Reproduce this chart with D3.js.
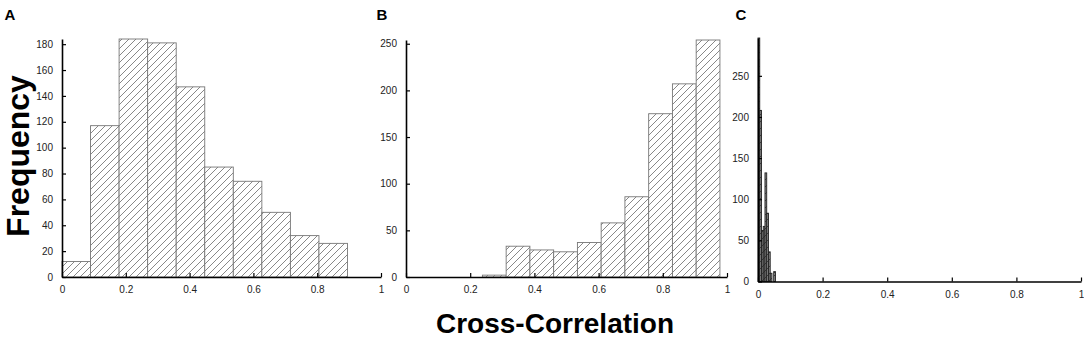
<!DOCTYPE html>
<html>
<head>
<meta charset="utf-8">
<script src="https://cdn.jsdelivr.net/npm/d3@7"></script>
<style>
  body { margin: 0; background: #fff; }
  text { font-family: "Liberation Sans", Arial, sans-serif; }
  .tick text { font-size: 10px; fill: #222; }
</style>
</head>
<body>
<svg width="1084" height="338"></svg>
<script>
// histogram counts
const countsA = [12, 117, 184, 181, 147, 85, 74, 50, 32, 26];
const binStartA = 0, binWidthA = 0.0895;

const countsB = [2, 33, 29, 27, 37, 58, 86, 175, 207, 254];
const binStartB = 0.238, binWidthB = 0.074;

const countsC = [296, 208, 62, 67, 132, 83, 36, 10, 0, 12];
const binStartC = 0, binWidthC = 0.0054;

const xTicks = [0, 0.2, 0.4, 0.6, 0.8, 1];
const yTicksA = [0, 20, 40, 60, 80, 100, 120, 140, 160, 180];
const yTicksB = [0, 50, 100, 150, 200, 250];
const yTicksC = [0, 50, 100, 150, 200, 250];

const svg = d3.select('svg');

const defs = svg.append('defs');
const hatch = (id, color, bg) => {
    const p = defs.append('pattern')
        .attr('id', id)
        .attr('patternUnits', 'userSpaceOnUse')
        .attr('width', 7)
        .attr('height', 7);
    p.append('rect').attr('width', 7).attr('height', 7).attr('fill', bg);
    p.append('path')
        .attr('d', 'M-1,8 L8,-1 M-2,1 L1,-2 M6,9 L9,6')
        .attr('stroke', color)
        .attr('stroke-width', 0.7);
};
hatch('hatch', '#555', '#fff');
hatch('hatchDark', '#222', '#888');

const panel = (opts) => {
    const { counts, start, width, yTicks, left, right, bottom, top, letter, fill, edge } = opts;
    const bins = counts.map((c, i) => ({ x0: start + i * width, x1: start + (i + 1) * width, count: c }));

    const xScale = d3.scaleLinear().domain([0, 1]).range([left, right]);
    const yScale = d3.scaleLinear().domain([0, d3.max(counts)]).range([bottom, top]);

    const g = svg.append('g');

    g.selectAll('rect').data(bins.filter(d => d.count > 0)).enter().append('rect')
        .attr('x', d => xScale(d.x0))
        .attr('width', d => xScale(d.x1) - xScale(d.x0))
        .attr('y', d => yScale(d.count))
        .attr('height', d => yScale(0) - yScale(d.count))
        .attr('fill', fill)
        .attr('stroke', edge)
        .attr('stroke-width', 0.9);

    const xAxis = d3.axisBottom(xScale)
        .tickValues(xTicks)
        .tickFormat(d3.format('~g'))
        .tickSizeInner(-4)
        .tickSizeOuter(0)
        .tickPadding(9);
    const xAxisG = g.append('g')
        .attr('transform', `translate(0, ${bottom})`)
        .call(xAxis);
    xAxisG.select('.domain').attr('stroke', '#000').attr('stroke-width', 1.6);
    xAxisG.selectAll('.tick line').attr('stroke', '#000').attr('stroke-width', 1.2);

    const yAxis = d3.axisLeft(yScale)
        .tickValues(yTicks)
        .tickSizeInner(-4)
        .tickSizeOuter(0)
        .tickPadding(9);
    const yAxisG = g.append('g')
        .attr('transform', `translate(${left}, 0)`)
        .call(yAxis);
    yAxisG.select('.domain').attr('stroke', '#000').attr('stroke-width', 1.6);
    yAxisG.selectAll('.tick line').attr('stroke', '#000').attr('stroke-width', 1.2);

    svg.append('text')
        .attr('x', letter[0])
        .attr('y', letter[1])
        .attr('text-anchor', 'middle')
        .style('font-size', '15px')
        .style('font-weight', 'bold')
        .text(letter[2]);
};

panel({ counts: countsA, start: binStartA, width: binWidthA, yTicks: yTicksA,
    left: 62, right: 381, bottom: 277, top: 39, letter: [10, 20, 'A'],
    fill: 'url(#hatch)', edge: '#777' });
panel({ counts: countsB, start: binStartB, width: binWidthB, yTicks: yTicksB,
    left: 406, right: 727, bottom: 277, top: 40, letter: [382, 20, 'B'],
    fill: 'url(#hatch)', edge: '#777' });
panel({ counts: countsC, start: binStartC, width: binWidthC, yTicks: yTicksC,
    left: 758, right: 1081, bottom: 281.5, top: 38, letter: [741, 20, 'C'],
    fill: 'url(#hatchDark)', edge: '#222' });

svg.append('text')
    .attr('transform', 'translate(29, 156) rotate(-90)')
    .attr('text-anchor', 'middle')
    .style('font-size', '32px')
    .style('font-weight', 'bold')
    .text('Frequency');

svg.append('text')
    .attr('x', 555)
    .attr('y', 333)
    .attr('text-anchor', 'middle')
    .style('font-size', '28px')
    .style('font-weight', 'bold')
    .text('Cross-Correlation');
</script>
</body>
</html>
